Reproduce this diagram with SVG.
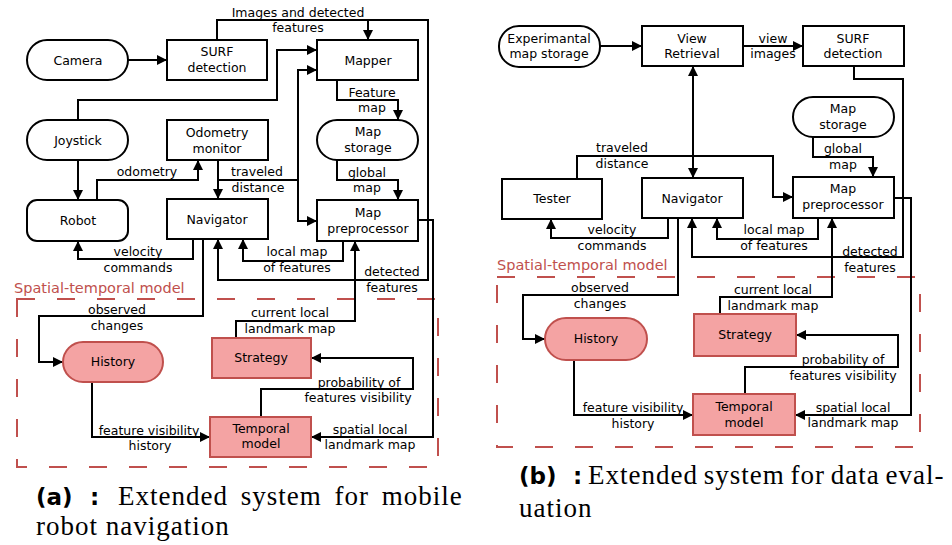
<svg xmlns="http://www.w3.org/2000/svg" width="952" height="545" viewBox="0 0 952 545">
  <style>
    .box { fill: #ffffff; stroke: #000000; stroke-width: 2; }
    .hot { fill: #f4a3a3; stroke: #c0504d; stroke-width: 2; }
    .lbl { font-family: "DejaVu Sans", sans-serif; font-size: 12.5px; fill: #000000; text-anchor: middle; }
    .region { fill: none; stroke: #c0504d; stroke-width: 2; stroke-dasharray: 18 22; }
    .region-title { font-family: "DejaVu Sans", sans-serif; font-size: 14.5px; fill: #c0504d; }
    .wire { fill: none; stroke: #000000; stroke-width: 2; }
    .arr { marker-end: url(#head); }
    .cap { font-family: "Liberation Serif", serif; font-size: 27px; letter-spacing: 1px; fill: #000000; }
    .capb { font-family: "DejaVu Sans", sans-serif; font-weight: bold; font-size: 23px; fill: #000000; }
  </style>
  <defs>
    <marker id="head" viewBox="0 0 10 10" refX="10" refY="5" markerWidth="10" markerHeight="10" markerUnits="userSpaceOnUse" orient="auto-start-reverse">
      <path d="M0,0 L10,5 L0,10 z" fill="#000000"/>
    </marker>
  </defs>

  <rect width="952" height="545" fill="#ffffff"/>

  <!-- ===== (a) mobile robot navigation ===== -->
  <g id="a-region">
    <rect class="region" x="17" y="299" width="421" height="168"/>
    <text class="region-title" x="14" y="293">Spatial-temporal model</text>
  </g>

  <g id="a-connectors">
    <path class="wire arr" d="M128,60 H167"/>
    <path class="wire arr" d="M217,40 V20 H428 V280 H218 V239"/>
    <path class="wire arr" d="M368,20 V40"/>
    <path class="wire arr" d="M78,120 V100 H277 V50 H317"/>
    <path class="wire arr" d="M78,160 V200"/>
    <path class="wire arr" d="M97,200 V180 H198 V160"/>
    <path class="wire arr" d="M218,160 V199"/>
    <path class="wire arr" d="M298,180 V70 H317"/>
    <path class="wire arr" d="M218,180 H298 V221 H317"/>
    <path class="wire arr" d="M337,80 V100 H398 V120"/>
    <path class="wire arr" d="M337,160 V180 H398 V200"/>
    <path class="wire arr" d="M343,241 V261 H243 V239"/>
    <path class="wire arr" d="M193,239 V259 H78 V241"/>
    <path class="wire arr" d="M203,239 V316 H39 V362 H63"/>
    <path class="wire arr" d="M418,220 H433 V437 H311"/>
    <path class="wire arr" d="M236,338 V321 H355 V241"/>
    <path class="wire arr" d="M261,417 V389 H413 V358 H311"/>
    <path class="wire arr" d="M92,382 V437 H210"/>

    <text class="lbl" x="298" y="17">Images and detected</text>
    <text class="lbl" x="298" y="32">features</text>
    <text class="lbl" x="147" y="176">odometry</text>
    <text class="lbl" x="257" y="176">traveled</text>
    <text class="lbl" x="258" y="192">distance</text>
    <text class="lbl" x="372" y="97">Feature</text>
    <text class="lbl" x="372" y="112">map</text>
    <text class="lbl" x="367" y="177">global</text>
    <text class="lbl" x="367" y="192">map</text>
    <text class="lbl" x="297" y="256">local map</text>
    <text class="lbl" x="297" y="272">of features</text>
    <text class="lbl" x="392" y="276">detected</text>
    <text class="lbl" x="392" y="292">features</text>
    <text class="lbl" x="138" y="256">velocity</text>
    <text class="lbl" x="138" y="272">commands</text>
    <text class="lbl" x="117" y="314">observed</text>
    <text class="lbl" x="117" y="330">changes</text>
    <text class="lbl" x="290" y="317">current local</text>
    <text class="lbl" x="290" y="333">landmark map</text>
    <text class="lbl" x="359" y="387">probability of</text>
    <text class="lbl" x="358" y="402">features visibility</text>
    <text class="lbl" x="370" y="434">spatial local</text>
    <text class="lbl" x="370" y="449">landmark map</text>
    <text class="lbl" x="149" y="435">feature visibility</text>
    <text class="lbl" x="150" y="450">history</text>
  </g>

  <g id="a-camera">
    <rect class="box" x="27" y="40" width="101" height="40" rx="20"/>
    <text class="lbl" x="78" y="65">Camera</text>
  </g>
  <g id="a-surf">
    <rect class="box" x="167" y="40" width="100" height="40"/>
    <text class="lbl" x="217" y="56">SURF</text>
    <text class="lbl" x="217" y="72">detection</text>
  </g>
  <g id="a-mapper">
    <rect class="box" x="317" y="40" width="101" height="40"/>
    <text class="lbl" x="368" y="65">Mapper</text>
  </g>
  <g id="a-joystick">
    <rect class="box" x="27" y="120" width="101" height="40" rx="20"/>
    <text class="lbl" x="78" y="145">Joystick</text>
  </g>
  <g id="a-odometry">
    <rect class="box" x="167" y="120" width="101" height="40"/>
    <text class="lbl" x="217" y="137">Odometry</text>
    <text class="lbl" x="217" y="153">monitor</text>
  </g>
  <g id="a-mapstorage">
    <rect class="box" x="317" y="120" width="101" height="40" rx="20"/>
    <text class="lbl" x="368" y="136">Map</text>
    <text class="lbl" x="368" y="152">storage</text>
  </g>
  <g id="a-robot">
    <rect class="box" x="27" y="200" width="101" height="41" rx="10"/>
    <text class="lbl" x="78" y="225">Robot</text>
  </g>
  <g id="a-navigator">
    <rect class="box" x="167" y="199" width="101" height="40"/>
    <text class="lbl" x="217" y="224">Navigator</text>
  </g>
  <g id="a-preprocessor">
    <rect class="box" x="317" y="200" width="101" height="41"/>
    <text class="lbl" x="368" y="217">Map</text>
    <text class="lbl" x="368" y="233">preprocessor</text>
  </g>
  <g id="a-history">
    <rect class="hot" x="63" y="342" width="100" height="40" rx="20"/>
    <text class="lbl" x="113" y="366">History</text>
  </g>
  <g id="a-strategy">
    <rect class="hot" x="212" y="338" width="99" height="40"/>
    <text class="lbl" x="261" y="362">Strategy</text>
  </g>
  <g id="a-temporal">
    <rect class="hot" x="210" y="417" width="101" height="40"/>
    <text class="lbl" x="261" y="433">Temporal</text>
    <text class="lbl" x="261" y="448">model</text>
  </g>

  <g id="a-caption">
    <text class="capb" x="36" y="505">(a)<tspan x="90">:</tspan></text>
    <text class="cap" x="118" y="505" word-spacing="5">Extended system for mobile</text>
    <text class="cap" x="36" y="535">robot navigation</text>
  </g>

  <!-- ===== (b) data evaluation ===== -->
  <g id="b-region">
    <rect class="region" x="497" y="277" width="423" height="170"/>
    <text class="region-title" x="497" y="270">Spatial-temporal model</text>
  </g>

  <g id="b-connectors">
    <path class="wire arr" d="M600,46 H642"/>
    <path class="wire arr" d="M743,46 H803"/>
    <path class="wire arr" d="M693,66 V178" marker-start="url(#head)"/>
    <path class="wire arr" d="M854,66 V79 H903 V257 H692 V218"/>
    <path class="wire arr" d="M813,137 V157 H873 V177"/>
    <path class="wire arr" d="M577,179 V156 H773 V197 H793"/>
    <path class="wire arr" d="M668,218 V238 H551 V219"/>
    <path class="wire arr" d="M818,218 V239 H717 V218"/>
    <path class="wire arr" d="M678,218 V295 H523 V339 H545"/>
    <path class="wire arr" d="M720,314 V297 H832 V218"/>
    <path class="wire arr" d="M745,394 V367 H898 V335 H796"/>
    <path class="wire arr" d="M894,198 H911 V415 H795"/>
    <path class="wire arr" d="M574,360 V415 H693"/>

    <text class="lbl" x="773" y="43">view</text>
    <text class="lbl" x="773" y="58">images</text>
    <text class="lbl" x="843" y="153">global</text>
    <text class="lbl" x="843" y="169">map</text>
    <text class="lbl" x="622" y="152">traveled</text>
    <text class="lbl" x="622" y="168">distance</text>
    <text class="lbl" x="612" y="234">velocity</text>
    <text class="lbl" x="612" y="250">commands</text>
    <text class="lbl" x="774" y="234">local map</text>
    <text class="lbl" x="774" y="250">of features</text>
    <text class="lbl" x="870" y="256">detected</text>
    <text class="lbl" x="870" y="272">features</text>
    <text class="lbl" x="600" y="292">observed</text>
    <text class="lbl" x="600" y="308">changes</text>
    <text class="lbl" x="773" y="294">current local</text>
    <text class="lbl" x="773" y="310">landmark map</text>
    <text class="lbl" x="843" y="364">probability of</text>
    <text class="lbl" x="843" y="380">features visibility</text>
    <text class="lbl" x="853" y="412">spatial local</text>
    <text class="lbl" x="853" y="427">landmark map</text>
    <text class="lbl" x="633" y="412">feature visibility</text>
    <text class="lbl" x="633" y="428">history</text>
  </g>

  <g id="b-expstorage">
    <rect class="box" x="499" y="26" width="101" height="41" rx="20"/>
    <text class="lbl" x="549" y="43">Experimantal</text>
    <text class="lbl" x="549" y="58">map storage</text>
  </g>
  <g id="b-view">
    <rect class="box" x="642" y="26" width="101" height="40"/>
    <text class="lbl" x="692" y="43">View</text>
    <text class="lbl" x="692" y="58">Retrieval</text>
  </g>
  <g id="b-surf">
    <rect class="box" x="803" y="26" width="101" height="40"/>
    <text class="lbl" x="853" y="43">SURF</text>
    <text class="lbl" x="853" y="58">detection</text>
  </g>
  <g id="b-mapstorage">
    <rect class="box" x="793" y="97" width="101" height="40" rx="20"/>
    <text class="lbl" x="843" y="113">Map</text>
    <text class="lbl" x="843" y="129">storage</text>
  </g>
  <g id="b-tester">
    <rect class="box" x="502" y="179" width="100" height="40"/>
    <text class="lbl" x="552" y="203">Tester</text>
  </g>
  <g id="b-navigator">
    <rect class="box" x="642" y="178" width="101" height="40"/>
    <text class="lbl" x="692" y="203">Navigator</text>
  </g>
  <g id="b-preprocessor">
    <rect class="box" x="793" y="177" width="101" height="41"/>
    <text class="lbl" x="843" y="193">Map</text>
    <text class="lbl" x="843" y="209">preprocessor</text>
  </g>
  <g id="b-history">
    <rect class="hot" x="545" y="318" width="102" height="42" rx="21"/>
    <text class="lbl" x="596" y="343">History</text>
  </g>
  <g id="b-strategy">
    <rect class="hot" x="694" y="314" width="102" height="42"/>
    <text class="lbl" x="745" y="339">Strategy</text>
  </g>
  <g id="b-temporal">
    <rect class="hot" x="693" y="394" width="102" height="41"/>
    <text class="lbl" x="744" y="411">Temporal</text>
    <text class="lbl" x="744" y="427">model</text>
  </g>

  <g id="b-caption">
    <text class="capb" x="519" y="484">(b)<tspan x="573">:</tspan></text>
    <text class="cap" x="588" y="484" word-spacing="-2">Extended system for data eval-</text>
    <text class="cap" x="519" y="517">uation</text>
  </g>
</svg>
